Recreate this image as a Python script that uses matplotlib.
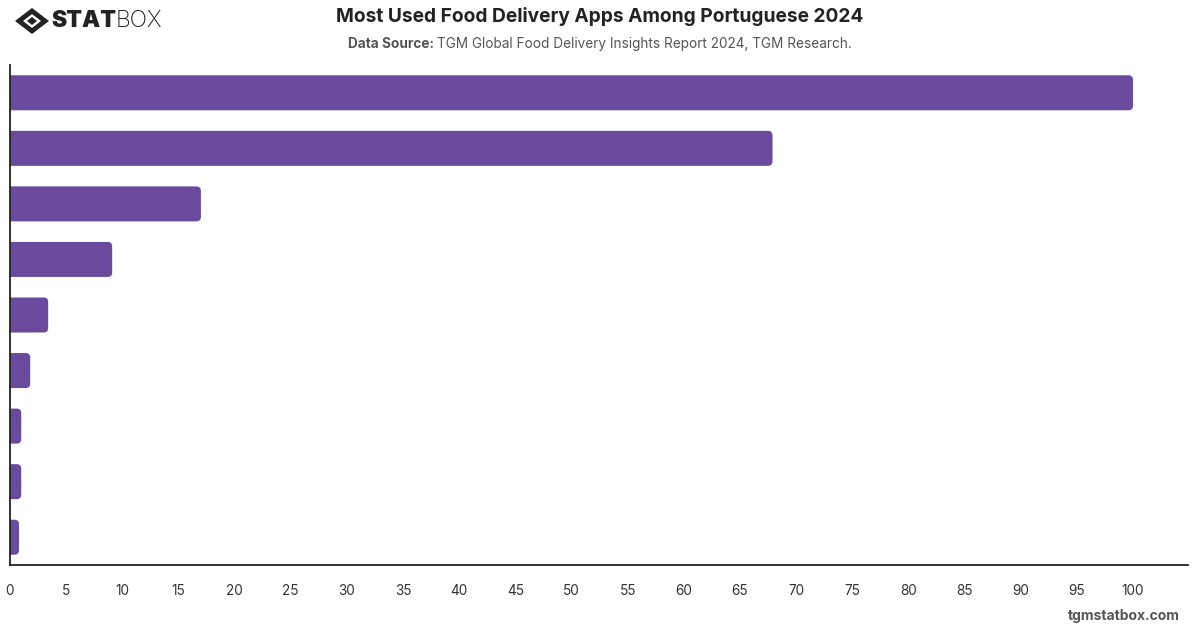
import matplotlib
matplotlib.use("Agg")
import matplotlib.pyplot as plt
from matplotlib.patches import FancyBboxPatch, Polygon
import numpy as np

apps = ["App 1", "App 2", "App 3", "App 4", "App 5", "App 6", "App 7", "App 8", "App 9"]
share = [100, 67.9, 17.0, 9.1, 3.4, 1.8, 1.0, 1.0, 0.8]
xticks = list(range(0, 101, 5))

PURPLE = "#694A9C"
plt.rcParams["font.family"] = ["Inter", "DejaVu Sans"]

W, H = 1200, 628
fig = plt.figure(figsize=(W/100, H/100), dpi=100)
ax = fig.add_axes([10/W, 1-565/H, 1178/W, 500/H])

y = np.arange(len(apps))
bars = ax.barh(y, share, height=0.63, color=PURPLE)
ax.set_xlim(0, 104.9)
ax.set_ylim(len(apps) - 0.5, -0.5)

# rounded right ends: swap each bar for a rounded patch starting left of 0 (clipped by axes)
asp = (1178 / 104.9) / (500 / len(apps))
for b in bars:
    b.set_visible(False)
    ax.add_patch(FancyBboxPatch((b.get_x() - 1, b.get_y()), b.get_width() + 1, b.get_height(),
                                boxstyle="round,pad=0,rounding_size=0.4", mutation_aspect=asp,
                                fc=PURPLE, ec="none"))

ax.set_xticks(xticks)
ax.set_xticklabels([str(t) for t in xticks], fontsize=9.8, color="#333333")
ax.tick_params(axis="x", length=0, pad=14)
ax.set_yticks([])
for s in ["top", "right"]:
    ax.spines[s].set_visible(False)
for s in ["left", "bottom"]:
    ax.spines[s].set_color("#222222")
    ax.spines[s].set_linewidth(1.3)

fig.text(0.5, 1-17/H, "Most Used Food Delivery Apps Among Portuguese 2024",
         ha="center", va="center", fontsize=13.8, fontweight="bold", color="#222222")

# subtitle: bold lead + regular rest, centred as one line
lead = fig.text(0, 1-44/H, "Data Source: ", ha="left", va="center", fontsize=9.8,
                fontweight="bold", color="#555555")
rest = fig.text(0, 1-44/H, "TGM Global Food Delivery Insights Report 2024, TGM Research.",
                ha="left", va="center", fontsize=9.8, color="#555555")
fig.canvas.draw()
wl = lead.get_window_extent().width
wr = rest.get_window_extent().width
x0 = W/2 - (wl + wr) / 2
lead.set_x(x0 / W)
rest.set_x((x0 + wl) / W)

# logo
cx, cy = 32, 21
def diamond(rx, ry, color):
    pts = [(cx-rx, cy), (cx, cy-ry), (cx+rx, cy), (cx, cy+ry)]
    fig.patches.append(Polygon([(px/W, 1-py/H) for px, py in pts], closed=True,
                               fc=color, ec="none", transform=fig.transFigure))
diamond(17, 13, "#222222")
diamond(9, 7, "white")
diamond(5, 4, "#222222")
s = fig.text(51/W, 1-21/H, "STAT", ha="left", va="center", fontsize=16.5,
             fontweight="black", color="#222222")
fig.canvas.draw()
fig.text(s.get_window_extent().x1/W, 1-21/H, "BOX", ha="left", va="center", fontsize=16.5,
         fontweight="light", color="#222222")

fig.text(1180/W, 1-616/H, "tgmstatbox.com", ha="right", va="center", fontsize=10,
         fontweight="bold", color="#555555")

fig.savefig("out.png", dpi=100)
